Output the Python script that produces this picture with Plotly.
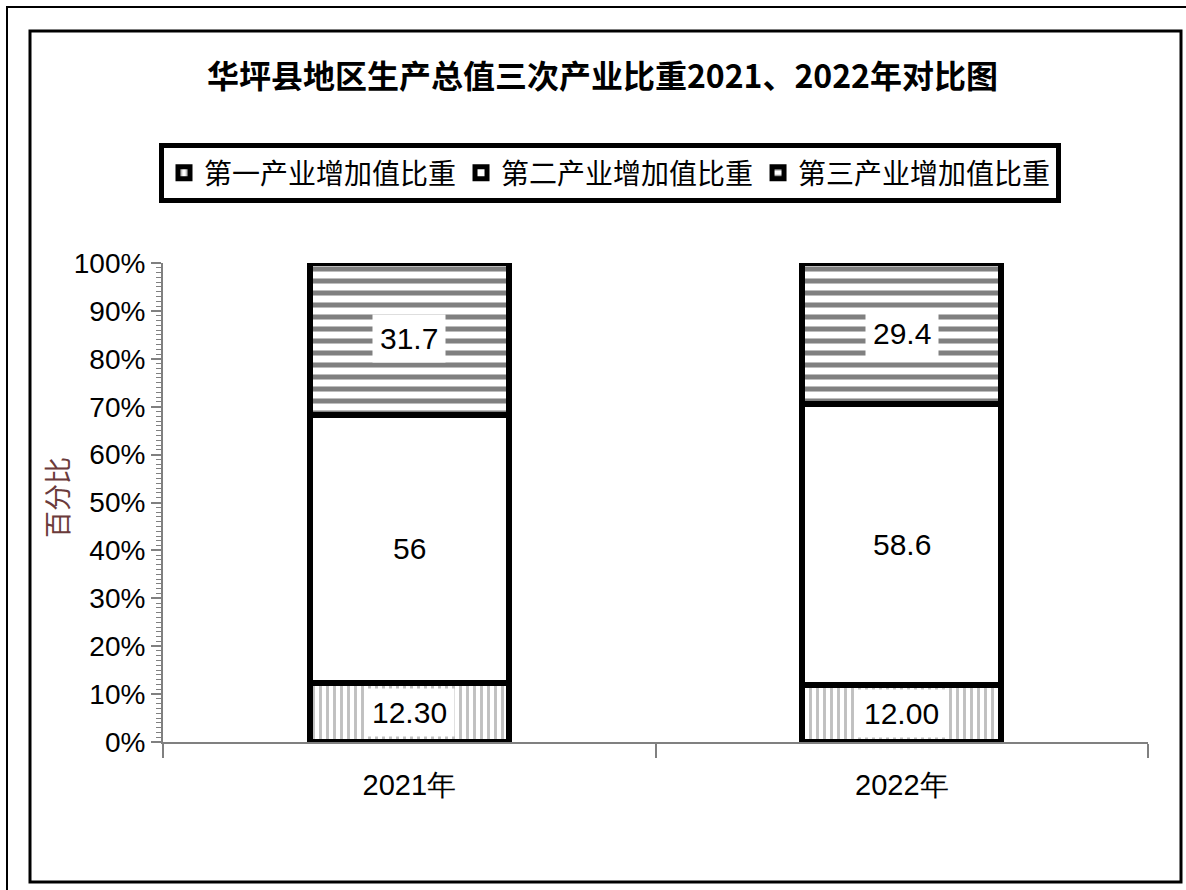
import plotly.graph_objects as go

categories = ["2021年", "2022年"]
series_names = ["第一产业增加值比重", "第二产业增加值比重", "第三产业增加值比重"]
primary = [12.3, 12.0]
secondary = [56.0, 58.6]
tertiary = [31.7, 29.4]
primary_labels = ["12.30", "12.00"]
secondary_labels = ["56", "58.6"]
tertiary_labels = ["31.7", "29.4"]
y_ticks = [0, 10, 20, 30, 40, 50, 60, 70, 80, 90, 100]
y_tick_text = [f"{v}%" for v in y_ticks]

W, H = 1186, 890
L, R, T, B = 163, 38, 263, 148
NUM_FONT = "Liberation Sans, Arial"

fig = go.Figure()
patterns = [
    dict(shape="|", fgcolor="#c0c0c0", bgcolor="white", size=7, solidity=0.42, fillmode="replace"),
    dict(shape="", bgcolor="white"),
    dict(shape="-", fgcolor="#808080", bgcolor="white", size=12, solidity=0.42, fillmode="replace"),
]
for name, vals, pat in zip(series_names, [primary, secondary, tertiary], patterns):
    fig.add_trace(go.Bar(
        x=categories, y=vals, name=name, width=0.405,
        marker=dict(color="white", line=dict(color="black", width=6), pattern=pat),
        hoverinfo="skip",
    ))

# value labels
for i, cat in enumerate(categories):
    bases = [0, primary[i], primary[i] + secondary[i]]
    vals = [primary[i], secondary[i], tertiary[i]]
    labs = [primary_labels[i], secondary_labels[i], tertiary_labels[i]]
    for b, v, lab in zip(bases, vals, labs):
        fig.add_annotation(
            x=cat, y=b + v / 2, xref="x", yref="y", text=lab, showarrow=False,
            font=dict(family=NUM_FONT, size=30, color="black"),
            bgcolor="white", borderpad=7,
        )

pw, ph = W - L - R, H - T - B
def px_x(x):
    return (x - L) / pw
def px_y(y):
    return (H - B - y) / ph

fig.update_layout(
    width=W, height=H,
    margin=dict(l=L, r=R, t=T, b=B),
    paper_bgcolor="white", plot_bgcolor="white",
    barmode="stack",
    title=dict(
        text="<b>华坪县地区生产总值三次产业比重2021、2022年对比图</b>",
        x=0.508, xanchor="center", y=1 - 77 / H, yanchor="middle",
        font=dict(family="Noto Sans CJK SC", size=32, color="black"),
    ),
    legend=dict(
        orientation="h", x=px_x(610), xanchor="center",
        y=px_y(143), yanchor="top",
        bordercolor="black", borderwidth=5, bgcolor="white",
        font=dict(family="Noto Sans CJK SC", size=28, color="black"),
        itemwidth=30, traceorder="normal", tracegroupgap=0,
    ),
    showlegend=True,
    font=dict(family=NUM_FONT, color="black"),
)

fig.update_yaxes(
    range=[0, 100], tickmode="array", tickvals=y_ticks, ticktext=y_tick_text,
    showgrid=False, zeroline=False,
    showline=True, linecolor="#808080", linewidth=2,
    ticks="outside", ticklen=10, tickcolor="#808080", tickwidth=2,
    minor=dict(ticks="outside", ticklen=5, tickcolor="#808080", tickwidth=1, dtick=1, showgrid=False),
    tickfont=dict(family=NUM_FONT, size=28, color="black"),
)
fig.update_xaxes(
    range=[-0.5, 1.5], showgrid=False, zeroline=False,
    showline=True, linecolor="#808080", linewidth=2,
    ticks="outside", tickson="boundaries", ticklen=14, tickcolor="#808080", tickwidth=2,
    ticklabelstandoff=16,
    tickfont=dict(family=NUM_FONT, size=29, color="black"),
)

# y-axis title
fig.add_annotation(
    x=px_x(56), y=px_y(498), xref="paper", yref="paper", text="百分比",
    textangle=-90, showarrow=False, xanchor="center", yanchor="middle",
    font=dict(family="Noto Sans CJK SC", size=27, color="#6b3b3b"),
)

# frames around the chart
fig.add_shape(type="rect", xref="paper", yref="paper",
              x0=px_x(7), x1=px_x(1190), y0=px_y(7), y1=px_y(895),
              line=dict(color="black", width=2), layer="below")
fig.add_shape(type="rect", xref="paper", yref="paper",
              x0=px_x(30), x1=px_x(1181), y0=px_y(31), y1=px_y(882),
              line=dict(color="black", width=3), layer="below")

fig.write_html("out.html", config={"displayModeBar": False},
               post_script="document.body.style.margin='0';document.body.style.overflow='hidden';")
